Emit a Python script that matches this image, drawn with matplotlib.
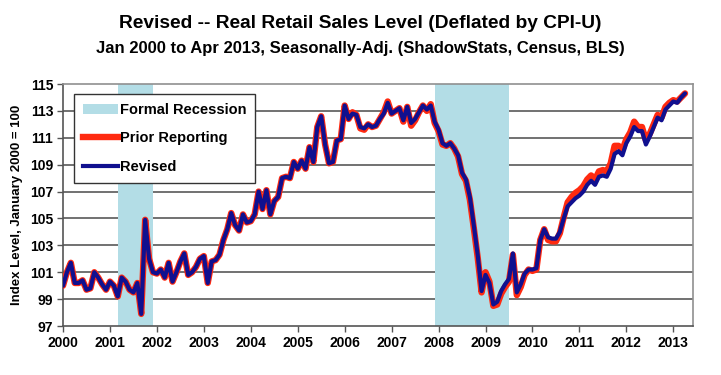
import numpy as np
import matplotlib
matplotlib.use("Agg")
import matplotlib.pyplot as plt
from matplotlib.patches import Patch
from matplotlib.lines import Line2D

plt.rcParams['font.family'] = ['Liberation Sans', 'DejaVu Sans']

start_year = 2000
# Monthly values, Jan 2000 .. Apr 2013 (Index, Jan 2000 = 100)
revised = [
    # 2000
    100.0, 101.0, 101.7, 100.2, 100.2, 100.4, 99.7, 99.8, 101.0, 100.6, 100.1, 99.7,
    # 2001
    100.3, 100.0, 99.2, 100.6, 100.3, 99.7, 99.5, 100.2, 97.9, 104.9, 102.0, 101.0,
    # 2002
    100.9, 101.2, 100.6, 101.7, 100.3, 101.0, 101.8, 102.4, 100.8, 101.0, 101.4, 102.0,
    # 2003
    102.2, 100.2, 101.8, 101.9, 102.3, 103.4, 104.2, 105.4, 104.5, 104.1, 105.3, 104.7,
    # 2004
    104.8, 105.3, 107.0, 105.7, 107.1, 105.3, 106.3, 106.6, 108.0, 108.1, 108.0, 109.2,
    # 2005
    108.7, 109.3, 108.7, 110.3, 109.2, 111.8, 112.6, 110.5, 109.1, 109.2, 110.8, 110.9,
    # 2006
    113.4, 112.4, 112.8, 112.7, 111.8, 111.7, 112.0, 111.8, 111.9, 112.4, 112.8, 113.6,
    # 2007
    112.8, 113.0, 113.2, 112.3, 113.3, 112.1, 112.4, 112.9, 113.4, 113.1, 113.4, 112.2,
    # 2008
    111.6, 110.6, 110.4, 110.6, 110.2, 109.7, 108.4, 107.9, 106.6, 104.5, 102.3, 99.6,
    # 2009
    100.8, 100.2, 98.6, 98.8, 99.6, 100.1, 100.5, 102.4, 99.5, 100.1, 100.9, 101.2,
    # 2010
    101.2, 101.3, 103.4, 104.2, 103.6, 103.5, 103.5, 104.0, 105.0, 105.9, 106.2, 106.5,
    # 2011
    106.7, 107.0, 107.5, 107.8, 107.5, 108.1, 108.2, 108.1, 108.7, 109.8, 110.0, 109.7,
    # 2012
    110.6, 111.1, 111.8, 111.5, 111.5, 110.5, 111.1, 111.8, 112.5, 112.3, 113.1, 113.4,
    # 2013
    113.7, 113.6, 114.0, 114.3,
]

prior = [
    # 2000
    100.0, 101.0, 101.7, 100.2, 100.2, 100.4, 99.7, 99.8, 101.0, 100.6, 100.1, 99.7,
    # 2001
    100.3, 100.0, 99.2, 100.6, 100.3, 99.7, 99.5, 100.2, 97.9, 104.9, 102.0, 101.0,
    # 2002
    100.9, 101.2, 100.6, 101.7, 100.3, 101.0, 101.8, 102.4, 100.8, 101.0, 101.4, 102.0,
    # 2003
    102.2, 100.2, 101.8, 101.9, 102.3, 103.4, 104.2, 105.4, 104.5, 104.1, 105.3, 104.7,
    # 2004
    104.8, 105.3, 107.0, 105.7, 107.1, 105.3, 106.3, 106.6, 108.0, 108.1, 108.0, 109.2,
    # 2005
    108.7, 109.3, 108.7, 110.3, 109.2, 111.8, 112.6, 110.5, 109.1, 109.2, 110.8, 110.9,
    # 2006
    113.4, 112.4, 112.9, 112.7, 111.7, 111.6, 112.0, 111.8, 111.9, 112.4, 112.9, 113.7,
    # 2007
    112.8, 113.0, 113.2, 112.2, 113.3, 111.9, 112.3, 112.9, 113.4, 113.0, 113.5, 112.1,
    # 2008
    111.5, 110.5, 110.4, 110.6, 110.2, 109.6, 108.3, 107.8, 106.4, 104.3, 102.1, 99.5,
    # 2009
    101.0, 100.3, 98.5, 98.6, 99.4, 99.9, 100.3, 102.3, 99.3, 99.9, 100.8, 101.2,
    # 2010
    101.1, 101.2, 103.4, 104.2, 103.4, 103.3, 103.3, 103.9, 105.1, 106.2, 106.6, 106.9,
    # 2011
    107.1, 107.4, 107.9, 108.2, 107.9, 108.5, 108.6, 108.5, 109.1, 110.4, 110.4, 110.1,
    # 2012
    110.9, 111.4, 112.2, 111.8, 111.8, 110.8, 111.3, 112.0, 112.7, 112.5, 113.3, 113.6,
    # 2013
    113.8, 113.7, 114.0, 114.3,
]

# Recession periods (start, end) in decimal years
recessions = [(2001 + 2 / 12, 2001 + 11 / 12), (2007 + 11 / 12, 2009 + 6 / 12)]

year_ticks = list(range(2000, 2014))
y_ticks = [97, 99, 101, 103, 105, 107, 109, 111, 113, 115]

title = "Revised -- Real Retail Sales Level (Deflated by CPI-U)"
subtitle = "Jan 2000 to Apr 2013, Seasonally-Adj. (ShadowStats, Census, BLS)"
ylabel = "Index Level, January 2000 = 100"

x = start_year + np.arange(len(revised)) / 12.0

fig = plt.figure(figsize=(7.21, 3.75), dpi=100)
ax = fig.add_axes([63 / 721, 1 - 326 / 375, (693 - 63) / 721, (326 - 84) / 375])

rec_color = '#b3dde6'
for s, e in recessions:
    ax.axvspan(s, e, color=rec_color, lw=0, zorder=1)

for yv in y_ticks[1:-1]:
    ax.axhline(yv, color='#4a4a4a', lw=1.1, zorder=0.5)

ax.plot(x[:len(prior)], prior, color='#ff2a10', lw=4.6, zorder=3, solid_capstyle='round', solid_joinstyle='round')
ax.plot(x, revised, color='#10108f', lw=3.0, zorder=4, solid_capstyle='round', solid_joinstyle='round')

ax.set_xlim(2000, 2013.42)
ax.set_ylim(97, 115)
ax.set_xticks(year_ticks)
ax.set_xticklabels([str(y) for y in year_ticks], fontsize=10, fontweight='bold')
ax.set_yticks(y_ticks)
ax.set_yticklabels([str(v) for v in y_ticks], fontsize=10, fontweight='bold')
ax.tick_params(axis='both', direction='out', length=4, width=1, color='#555555', pad=3)

for side in ['top', 'right']:
    ax.spines[side].set_color('#909090')
    ax.spines[side].set_linewidth(1.2)
for side in ['left', 'bottom']:
    ax.spines[side].set_color('#555555')
    ax.spines[side].set_linewidth(1.2)

ax.set_ylabel(ylabel, fontsize=9.5, fontweight='bold', labelpad=5)

fig.text(0.5, 1 - 23 / 375, title, ha='center', va='center', fontsize=13.8, fontweight='bold')
fig.text(0.5, 1 - 48 / 375, subtitle, ha='center', va='center', fontsize=12, fontweight='bold')

handles = [
    Patch(facecolor=rec_color, edgecolor='none', label='Formal Recession'),
    Line2D([0], [0], color='#ff2a10', lw=4.6, label='Prior Reporting'),
    Line2D([0], [0], color='#10108f', lw=3.0, label='Revised'),
]
leg = ax.legend(handles=handles, loc='upper left', bbox_to_anchor=(11 / 630, 1 - 10 / 242),
                frameon=True, fancybox=False, edgecolor='#333333', framealpha=1,
                prop={'weight': 'bold', 'size': 10.5}, handlelength=2.4, handletextpad=0.15,
                labelspacing=1.0, borderpad=0.6, borderaxespad=0)
leg.get_frame().set_linewidth(1.0)
leg.set_zorder(10)

fig.savefig('out.png', dpi=100)
